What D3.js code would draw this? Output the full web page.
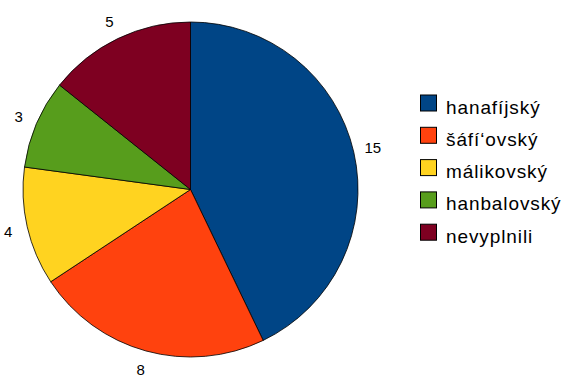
<!DOCTYPE html>
<html>
<head>
<meta charset="utf-8">
<script src="https://cdn.jsdelivr.net/npm/d3@7"></script>
<style>
  body { margin: 0; background: #fff; }
  text { font-family: "Liberation Sans", Arial, sans-serif; fill: #000; }
</style>
</head>
<body>
<svg></svg>
<script>
// pie data
var categories = ["hanafíjský", "šáfí‘ovský", "málikovský", "hanbalovský", "nevyplnili"];
var values = [15, 8, 4, 3, 5];
var colors = ["#004586", "#ff420e", "#ffd320", "#579d1c", "#7e0021"];

var svgWidth = 569, svgHeight = 382;
var cx = 190.5, cy = 189.5, radius = 167.5, labelRadius = 187;

var svg = d3.select('svg')
    .attr("width", svgWidth)
    .attr("height", svgHeight);

var pie = d3.pie().sort(null).value(function(d) { return d; });
var arcs = pie(values);
var arc = d3.arc().innerRadius(0).outerRadius(radius);
var labelArc = d3.arc().innerRadius(labelRadius).outerRadius(labelRadius);

var g = svg.append('g').attr("transform", "translate(" + cx + "," + cy + ")");

g.selectAll('path')
    .data(arcs)
    .enter()
    .append('path')
    .attr('d', arc)
    .attr('fill', function(d, i) { return colors[i]; })
    .attr('stroke', '#000')
    .attr('stroke-width', 0.8);

g.selectAll('.lbl')
    .data(arcs)
    .enter()
    .append('text')
    .attr('class', 'lbl')
    .attr('transform', function(d) { return "translate(" + labelArc.centroid(d) + ")"; })
    .attr('text-anchor', 'middle')
    .attr('dominant-baseline', 'central')
    .style('font-size', '15px')
    .text(function(d) { return d.data; });

// legend
var legend = svg.append('g').attr("transform", "translate(420,94.5)");
var rowH = 32.3;

var item = legend.selectAll('.item')
    .data(categories)
    .enter()
    .append('g')
    .attr('class', 'item')
    .attr('transform', function(d, i) { return "translate(0," + (i * rowH) + ")"; });

item.append('rect')
    .attr('x', 0.5).attr('y', 0.5)
    .attr('width', 16).attr('height', 16)
    .attr('fill', function(d, i) { return colors[i]; })
    .attr('stroke', '#000')
    .attr('stroke-width', 1);

item.append('text')
    .attr('x', 26)
    .attr('y', 19)
    .style('font-size', '19px')
    .style('letter-spacing', '0.9px')
    .text(function(d) { return d; });
</script>
</body>
</html>
